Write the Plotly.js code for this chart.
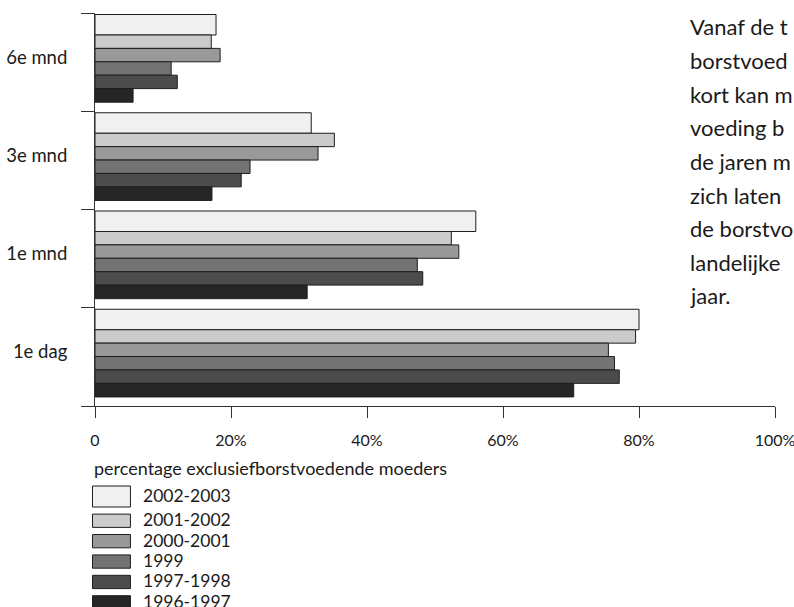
<!DOCTYPE html>
<html>
<head>
<meta charset="utf-8">
<script src="https://cdn.plot.ly/plotly-3.0.1.min.js"></script>
<style>html,body{margin:0;padding:0;background:#fff;}#chart{width:794px;height:607px;}</style>
</head>
<body>
<div id="chart"></div>
<script>
// ---- data ----
const categories = ['1e dag', '1e mnd', '3e mnd', '6e mnd'];
const seriesNames = ['2002-2003', '2001-2002', '2000-2001', '1999', '1997-1998', '1996-1997'];
const v2002_2003 = [80.0, 56.0, 31.8, 17.8];
const v2001_2002 = [79.5, 52.4, 35.2, 17.1];
const v2000_2001 = [75.5, 53.5, 32.8, 18.4];
const v1999      = [76.4, 47.4, 22.8, 11.2];
const v1997_1998 = [77.1, 48.2, 21.5, 12.1];
const v1996_1997 = [70.4, 31.2, 17.2, 5.6];
const seriesValues = [v2002_2003, v2001_2002, v2000_2001, v1999, v1997_1998, v1996_1997];
const xTickVals = [0, 20, 40, 60, 80, 100];
const xTickText = ['0', '20%', '40%', '60%', '80%', '100%'];
const xTitle = 'percentage exclusiefborstvoedende moeders';
const bodyLines = ['Vanaf de t', 'borstvoed', 'kort kan m', 'voeding b', 'de jaren m', 'zich laten', 'de borstvo', 'landelijke', 'jaar.'];

// ---- style ----
const fills = ['#f0f0f0', '#cbcbcb', '#999999', '#737373', '#4c4c4c', '#262626'];
const edge = '#1e1e1e';
const FONT = 'Lato, "Open Sans", sans-serif';
const W = 794, H = 607;
const M = {l: 94.5, r: 18.5, t: 13, b: 201};
const plotW = W - M.l - M.r, plotH = H - M.t - M.b;
const unitPx = plotH / categories.length;
const barPx = [20.5, 13.4, 13.4, 13.4, 13.4, 13.6];
const topGapPx = 1.5;

const px2xp = px => (px - M.l) / plotW;
const px2yp = py => (H - M.b - py) / plotH;

// bar slot offsets (relative to category centre, in category units)
const traces = [];
let cursor = 0.5 - topGapPx / unitPx;
seriesNames.forEach((name, i) => {
  const w = barPx[i] / unitPx;
  const off = cursor - w;
  cursor = off;
  traces.push({
    type: 'bar', orientation: 'h', name: name,
    y: categories, x: seriesValues[i],
    width: categories.map(() => w),
    offset: categories.map(() => off),
    marker: {color: fills[i], line: {color: edge, width: 1}},
    hoverinfo: 'skip'
  });
});

const shapes = [];
const annotations = [];

// legend (drawn from series names & colours)
const legTop = 486, legX0 = 92, legX1 = 130;
let ly = legTop;
seriesNames.forEach((name, i) => {
  const h = i === 0 ? 21 : 13.3;
  shapes.push({type: 'rect', xref: 'paper', yref: 'paper',
    x0: px2xp(legX0), x1: px2xp(legX1), y0: px2yp(ly), y1: px2yp(ly + h),
    fillcolor: fills[i], line: {color: edge, width: 1}});
  annotations.push({xref: 'paper', yref: 'paper', x: px2xp(141), y: px2yp(ly + h / 2 - 1),
    xanchor: 'left', yanchor: 'middle', text: name, showarrow: false,
    font: {family: FONT, size: 17.5, color: '#1a1a1a'}});
  ly += h + 7.1;
});

// axis title
annotations.push({xref: 'paper', yref: 'paper', x: px2xp(91), y: px2yp(468),
  xanchor: 'left', yanchor: 'middle', text: xTitle, showarrow: false,
  font: {family: FONT, size: 18, color: '#1a1a1a'}});

// body text on the right
bodyLines.forEach((t, i) => {
  annotations.push({xref: 'paper', yref: 'paper', x: px2xp(688), y: px2yp(27 + i * 33.6),
    xanchor: 'left', yanchor: 'middle', text: t, showarrow: false,
    font: {family: FONT, size: 22, color: '#1a1a1a'}});
});

const layout = {
  width: W, height: H,
  margin: M,
  paper_bgcolor: '#fff', plot_bgcolor: '#fff',
  barmode: 'overlay',
  showlegend: false,
  hovermode: false,
  xaxis: {
    range: [0, 100], tickvals: xTickVals, ticktext: xTickText,
    showgrid: false, zeroline: false, showline: true, linecolor: '#333', linewidth: 1,
    ticks: 'outside', ticklen: 11, tickcolor: '#333', tickwidth: 1,
    ticklabelstandoff: 9,
    ticklabeloverflow: 'allow',
    tickfont: {family: FONT, size: 16, color: '#1a1a1a'},
    fixedrange: true
  },
  yaxis: {
    type: 'category', categoryorder: 'array', categoryarray: categories,
    range: [-0.5, 3.5],
    tickson: 'boundaries',
    showgrid: false, zeroline: false, showline: true, linecolor: '#333', linewidth: 1,
    ticks: 'outside', ticklen: 13, tickcolor: '#333', tickwidth: 1,
    ticklabelstandoff: 23,
    ticklabelshift: -5,
    tickfont: {family: FONT, size: 18.5, color: '#1a1a1a'},
    fixedrange: true
  },
  shapes: shapes,
  annotations: annotations
};

Plotly.newPlot('chart', traces, layout, {displayModeBar: false, staticPlot: true});
</script>
</body>
</html>
